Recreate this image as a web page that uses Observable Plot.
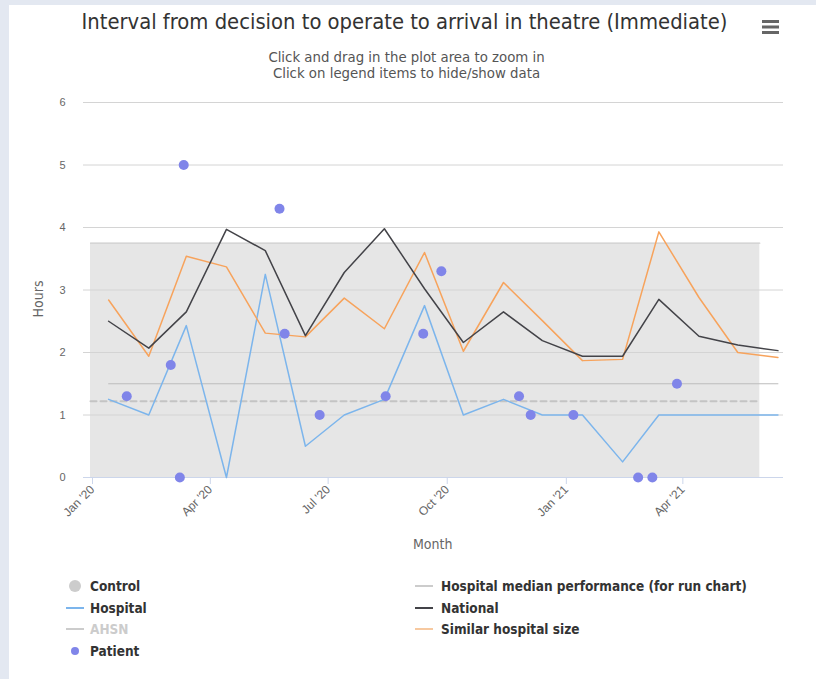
<!DOCTYPE html>
<html>
<head>
<meta charset="utf-8">
<script src="https://cdn.jsdelivr.net/npm/d3@7"></script>
<script src="https://cdn.jsdelivr.net/npm/@observablehq/plot@0.6"></script>
<style>
  html, body { margin: 0; padding: 0; }
  body { width: 816px; height: 679px; background: #e3e8f1; position: relative; overflow: hidden; font-family: "Liberation Sans", Arial, sans-serif; }
  #card { position: absolute; left: 9px; top: 5px; right: 0; bottom: 0; background: #fff; }
  #title { position: absolute; left: 0; width: 809px; top: 9px; text-align: center; font-family: "Liberation Sans Narrow", "DejaVu Sans Condensed", "DejaVu Sans", sans-serif; font-size: 21.8px; color: #333; white-space: nowrap; }
  #subtitle { position: absolute; left: 0; width: 813px; top: 49px; text-align: center; font-family: "Liberation Sans Narrow", "DejaVu Sans Condensed", "DejaVu Sans", sans-serif; font-size: 14.8px; line-height: 16px; color: #555; }
  #menu { position: absolute; left: 762px; top: 20px; }
  #chart { position: absolute; left: 0; top: 0; }
  .axis-title { position: absolute; font-family: "Liberation Sans Narrow", "DejaVu Sans Condensed", "DejaVu Sans", sans-serif; font-size: 14px; color: #666; white-space: nowrap; }
  #legend { position: absolute; left: 0; top: 0; width: 816px; height: 679px; pointer-events: none; }
  .li { position: absolute; font-family: "Liberation Sans Narrow", "DejaVu Sans Condensed", "DejaVu Sans", sans-serif; font-weight: bold; font-size: 13.5px; color: #333; white-space: nowrap; line-height: 16px; }
  .sym { position: absolute; }
</style>
</head>
<body>
<div id="card"></div>
<div id="title">Interval from decision to operate to arrival in theatre (Immediate)</div>
<div id="subtitle">Click and drag in the plot area to zoom in<br>Click on legend items to hide/show data</div>
<svg id="menu" width="18" height="16"><rect x="0" y="0" width="17" height="3" fill="#666"/><rect x="0" y="5.5" width="17" height="3" fill="#666"/><rect x="0" y="11" width="17" height="3" fill="#666"/></svg>
<div id="chart"></div>
<div class="axis-title" id="ytitle" style="left:20px; top:291px; transform: rotate(-90deg); transform-origin: center;">Hours</div>
<div class="axis-title" id="xtitle" style="left:413px; top:536px;">Month</div>
<div id="legend"></div>
<script>
// ---- Data ----
const months = ["2020-01-15","2020-02-15","2020-03-15","2020-04-15","2020-05-15","2020-06-15",
  "2020-07-15","2020-08-15","2020-09-15","2020-10-15","2020-11-15","2020-12-15",
  "2021-01-15","2021-02-15","2021-03-15","2021-04-15","2021-05-15","2021-06-15"];
const hospital = [1.25, 1.0, 2.43, 0.0, 3.25, 0.5, 1.0, 1.25, 2.75, 1.0, 1.25, 1.0, 1.0, 0.25, 1.0, 1.0, 1.0, 1.0];
const national = [2.5, 2.07, 2.65, 3.97, 3.63, 2.27, 3.28, 3.98, 3.02, 2.16, 2.65, 2.19, 1.94, 1.94, 2.85, 2.26, 2.12, 2.03];
const similarSize = [2.84, 1.94, 3.54, 3.37, 2.31, 2.25, 2.87, 2.38, 3.6, 2.02, 3.12, 2.51, 1.87, 1.89, 3.93, 2.88, 2.0, 1.92];
const hospitalMedian = [1.5, 1.5];
const medianDates = ["2020-01-15", "2021-06-15"];
const controlDates = ["2020-01-01", "2021-06-01"];
const controlUpper = [3.75, 3.75];
const controlLower = [0, 0];
const controlMean = [1.22, 1.22];
const patientDates = ["2020-01-29","2020-03-03","2020-03-10","2020-03-13","2020-05-26","2020-05-30",
  "2020-06-26","2020-08-16","2020-09-14","2020-09-28","2020-11-27","2020-12-06",
  "2021-01-08","2021-02-27","2021-03-10","2021-03-29"];
const patientHours = [1.3, 1.8, 0.0, 5.0, 4.3, 2.3, 1.0, 1.3, 2.3, 3.3, 1.3, 1.0, 1.0, 0.0, 0.0, 1.5];
const yTicks = [0, 1, 2, 3, 4, 5, 6];
const xTicks = ["2020-01-01","2020-04-01","2020-07-01","2020-10-01","2021-01-01","2021-04-01"];
const legendLeft = [
  {name: "Control", type: "circle", color: "#cccccc", text: "#333"},
  {name: "Hospital", type: "line", color: "#7cb5ec", text: "#333"},
  {name: "AHSN", type: "line", color: "#cccccc", text: "#cccccc"},
  {name: "Patient", type: "dot", color: "#8085e9", text: "#333"}
];
const legendRight = [
  {name: "Hospital median performance (for run chart)", type: "line", color: "#cccccc", text: "#333"},
  {name: "National", type: "line", color: "#434348", text: "#333"},
  {name: "Similar hospital size", type: "line", color: "#f7c9a0", text: "#333"}
];

// ---- Tables ----
const parse = d3.utcParse("%Y-%m-%d");
const series = months.map((m, i) => ({date: parse(m), hospital: hospital[i], national: national[i], similar: similarSize[i]}));
const control = controlDates.map((d, i) => ({date: parse(d), upper: controlUpper[i], lower: controlLower[i], mean: controlMean[i]}));
const median = medianDates.map((d, i) => ({date: parse(d), value: hospitalMedian[i]}));
const patients = patientDates.map((d, i) => ({date: parse(d), hours: patientHours[i]}));

const chart = Plot.plot({
  width: 816,
  height: 560,
  marginTop: 102,
  marginBottom: 83,
  marginLeft: 83,
  marginRight: 33,
  style: {background: "transparent", fontFamily: "'Liberation Sans', Arial, sans-serif", fontSize: "11px", color: "#666", overflow: "visible"},
  x: {type: "utc", domain: [new Date(Date.UTC(2019, 11, 26, 14)), new Date(Date.UTC(2021, 5, 19, 7))]},
  y: {domain: [0, 6]},
  marks: [
    Plot.areaY(control, {x: "date", y1: "lower", y2: "upper", fill: "#e6e6e6"}),
    Plot.lineY(control, {x: "date", y: "upper", stroke: "#cfcfcf", strokeWidth: 1.2}),
    Plot.gridY(yTicks, {stroke: "#d4d4d4", strokeOpacity: 1, strokeWidth: 1}),
    Plot.ruleY([0], {stroke: "#ccd6eb", strokeWidth: 1}),
    Plot.lineY(control, {x: "date", y: "mean", stroke: "#c4c4c4", strokeWidth: 2, strokeDasharray: "6,4"}),
    Plot.lineY(median, {x: "date", y: "value", stroke: "#bdbdbd", strokeWidth: 1}),
    Plot.lineY(series, {x: "date", y: "hospital", stroke: "#7cb5ec", strokeWidth: 1.5}),
    Plot.lineY(series, {x: "date", y: "similar", stroke: "#f7a35c", strokeWidth: 1.5}),
    Plot.lineY(series, {x: "date", y: "national", stroke: "#434348", strokeWidth: 1.5}),
    Plot.dot(patients, {x: "date", y: "hours", r: 5, fill: "#8085e9", stroke: "none"}),
    Plot.axisY({ticks: yTicks, tickFormat: d3.format("d"), tickSize: 0, tickPadding: 18, label: null, fill: "#666", fontSize: 11}),
    Plot.axisX({ticks: xTicks.map(parse), tickFormat: d3.utcFormat("%b '%y"), tickRotate: -45, tickSize: 7, tickPadding: 3,
      stroke: "#ccd6eb", fill: "#666", label: null, fontSize: 12, dx: 2})
  ]
});
document.getElementById("chart").appendChild(chart);

// ---- Legend ----
const legend = document.getElementById("legend");
function addItem(item, symX, textX, y) {
  let sym;
  if (item.type === "line") {
    sym = `<svg class="sym" style="left:${symX - 9}px; top:${y - 2}px" width="18" height="4"><line x1="0" y1="2" x2="18" y2="2" stroke="${item.color}" stroke-width="2"/></svg>`;
  } else if (item.type === "circle") {
    sym = `<svg class="sym" style="left:${symX - 6}px; top:${y - 6}px" width="12" height="12"><circle cx="6" cy="6" r="6" fill="${item.color}"/></svg>`;
  } else {
    sym = `<svg class="sym" style="left:${symX - 5}px; top:${y - 5}px" width="10" height="10"><circle cx="5" cy="5" r="4" fill="${item.color}"/></svg>`;
  }
  legend.insertAdjacentHTML("beforeend", sym + `<div class="li" style="left:${textX}px; top:${y - 8}px; color:${item.text}">${item.name}</div>`);
}
legendLeft.forEach((it, i) => addItem(it, 75, 90, 586 + i * 21.7));
legendRight.forEach((it, i) => addItem(it, 424, 441, 586 + i * 21.7));
</script>
</body>
</html>
